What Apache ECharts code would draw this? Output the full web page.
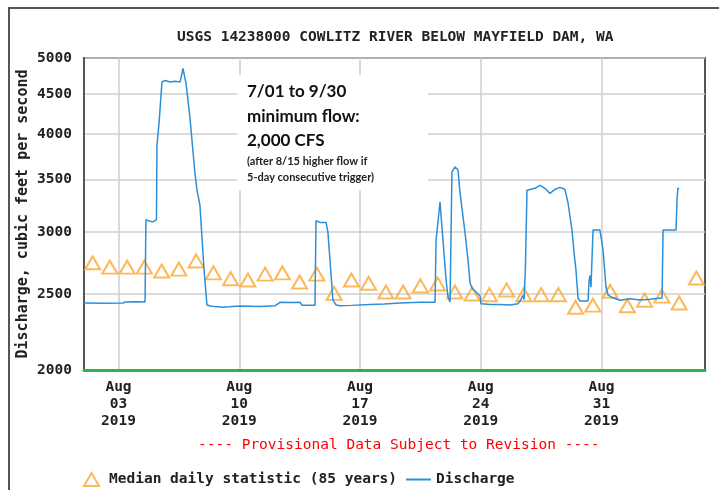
<!DOCTYPE html>
<html><head><meta charset="utf-8">
<script src="https://cdn.jsdelivr.net/npm/echarts@6/dist/echarts.min.js"></script>
<style>html,body{margin:0;padding:0;background:#fff}#c{width:719px;height:490px}</style>
</head><body><div id="c"></div>
<script>
// ---- data ----
const titleText = 'USGS 14238000 COWLITZ RIVER BELOW MAYFIELD DAM, WA';
const yTicks = [2000, 2500, 3000, 3500, 4000, 4500, 5000];
// x is days since Aug 01 2019 00:00
const xTickDays = [2, 9, 16, 23, 30];
const xTickLabels = ['Aug\n03\n2019', 'Aug\n10\n2019', 'Aug\n17\n2019', 'Aug\n24\n2019', 'Aug\n31\n2019'];
// median daily statistic, one per day Aug 01 .. Sep 05 (plotted at noon)
const medianDays = [0.5,1.5,2.5,3.5,4.5,5.5,6.5,7.5,8.5,9.5,10.5,11.5,12.5,13.5,14.5,15.5,16.5,17.5,
  18.5,19.5,20.5,21.5,22.5,23.5,24.5,25.5,26.5,27.5,28.5,29.5,30.5,31.5,32.5,33.5,34.5,35.5];
const medianCfs = [2740,2705,2705,2705,2675,2690,2755,2660,2615,2605,2650,2660,2590,2650,2505,2605,2580,2515,
  2515,2560,2575,2515,2500,2495,2530,2495,2495,2495,2405,2420,2520,2415,2455,2485,2435,2620];
// discharge (15-min record, read at breakpoints)
const dischargeDays = [0.00,1.20,2.26,2.38,3.00,3.54,3.59,3.83,4.00,4.20,4.23,4.35,4.46,4.52,4.70,4.99,5.28,5.57,5.68,5.74,5.86,5.91,
  6.14,6.43,6.55,6.72,6.96,7.13,7.40,7.59,8.00,8.46,9.00,9.62,10.20,11.07,11.36,12.00,12.52,12.64,13.39,13.45,13.68,14.03,14.14,14.43,14.61,
  14.84,15.50,16.58,17.40,18.32,19.48,20.35,20.41,20.64,20.75,20.99,21.10,21.22,21.28,21.33,21.51,21.68,21.80,22.09,22.26,22.38,22.49,
  22.78,22.96,23.01,23.60,24.12,24.70,25.16,25.33,25.45,25.51,25.59,25.68,26.14,26.43,26.72,27.01,27.30,27.59,27.88,28.06,28.29,28.41,
  28.52,28.64,28.75,29.22,29.28,29.33,29.39,29.51,29.91,30.09,30.26,30.38,30.61,31.07,31.65,32.23,32.81,33.51,33.57,34.32,34.38,34.43,34.49];
const dischargeCfs = [2435,2433,2435,2442,2444,2442,3110,3095,3090,3110,3870,4130,4150,4660,4680,4660,4670,4660,4670,4850,4700,4650,
  4200,3567,3393,3247,2683,2421,2412,2410,2404,2408,2414,2412,2410,2415,2440,2438,2440,2418,2418,3100,3085,3085,3000,2456,2421,
  2415,2418,2425,2428,2435,2440,2440,2930,3276,3044,2605,2478,2442,2442,3578,3631,3600,3364,2991,2763,2582,2545,
  2507,2486,2430,2425,2425,2420,2430,2460,2490,2460,2700,3390,3410,3440,3410,3360,3400,3420,3400,3266,3017,2820,
  2683,2471,2449,2449,2600,2640,2550,3017,3017,2845,2552,2493,2475,2455,2465,2456,2462,2471,3017,3017,3300,3413,3400];

const noteLines = ['7/01 to 9/30', 'minimum flow:', '2,000 CFS'];
const noteSmall = ['(after 8/15 higher flow if', '5-day consecutive trigger)'];

// ---- chart ----
const MONO = '"DejaVu Sans Mono", monospace';
const chart = echarts.init(document.getElementById('c'), null, {renderer: 'canvas'});
const dischargeData = dischargeDays.map((d, i) => [d, dischargeCfs[i]]);
const medianData = medianDays.map((d, i) => [d, medianCfs[i]]);

chart.setOption({
  backgroundColor: '#fff',
  animation: false,
  title: [
    {text: titleText, left: 172, top: 25, textStyle: {fontFamily: MONO, fontSize: 14.5, fontWeight: 'bold', color: '#222'}},
    {text: '---- Provisional Data Subject to Revision ----', left: 193, top: 433,
     textStyle: {fontFamily: MONO, fontSize: 14.5, fontWeight: 'normal', color: '#ff0000'}}
  ],
  legend: [
    {data: ['Median daily statistic (85 years)'], left: 78, top: 467, itemWidth: 15, itemHeight: 13, itemGap: 0,
     textStyle: {fontFamily: MONO, fontSize: 14.5, fontWeight: 'bold', color: '#222', padding: [0, 0, 0, 5]}},
    {data: [{name: 'Discharge', icon: 'rect'}], left: 401, top: 467, itemWidth: 25, itemHeight: 2,
     textStyle: {fontFamily: MONO, fontSize: 14.5, fontWeight: 'bold', color: '#222'}}
  ],
  grid: {left: 84, right: 14, top: 58, bottom: 120, show: true, borderColor: '#555', borderWidth: 2, backgroundColor: '#fff'},
  xAxis: {
    type: 'value', min: 0, max: 36,
    axisLine: {show: true, onZero: false, lineStyle: {color: '#2fb34a', width: 3}},
    axisTick: {show: false, customValues: xTickDays},
    splitLine: {show: true, lineStyle: {color: '#cfcfcf', width: 1.5}},
    axisLabel: {customValues: xTickDays, margin: 9, lineHeight: 17, fontFamily: MONO, fontSize: 14.5, fontWeight: 'bold', color: '#222',
      formatter: v => xTickLabels[xTickDays.indexOf(Math.round(v))] || ''}
  },
  yAxis: {
    type: 'log', logBase: 10, min: 2000, max: 5000,
    name: 'Discharge, cubic feet per second', nameLocation: 'middle', nameGap: 53, nameRotate: 90, nameMoveOverlap: false,
    nameTextStyle: {fontFamily: MONO, fontSize: 15, fontWeight: 'bold', color: '#222'},
    axisLine: {show: true, lineStyle: {color: '#555', width: 2}},
    axisTick: {show: false, customValues: yTicks},
    splitLine: {show: true, lineStyle: {color: '#cfcfcf', width: 1.5}},
    axisLabel: {customValues: yTicks, margin: 12, fontFamily: MONO, fontSize: 14.5, fontWeight: 'bold', color: '#222',
      formatter: v => String(Math.round(v))}
  },
  graphic: [
    {type: 'rect', z: -10, silent: true, shape: {x: 9, y: 8, width: 900, height: 700}, style: {fill: 'none', stroke: '#555', lineWidth: 2}},
    {type: 'rect', z: 1, silent: true, shape: {x: 237, y: 75, width: 191, height: 115}, style: {fill: '#fff'}},
    {type: 'text', z: 2, left: 247, top: 83, style: {text: noteLines[0], font: 'bold 17px Lato, sans-serif', fill: '#111'}},
    {type: 'text', z: 2, left: 247, top: 108, style: {text: noteLines[1], font: 'bold 17px Lato, sans-serif', fill: '#111'}},
    {type: 'text', z: 2, left: 247, top: 132, style: {text: noteLines[2], font: 'bold 17px Lato, sans-serif', fill: '#111'}},
    {type: 'text', z: 2, left: 247, top: 156, style: {text: noteSmall[0], font: 'bold 11px Lato, sans-serif', fill: '#222'}},
    {type: 'text', z: 2, left: 247, top: 172, style: {text: noteSmall[1], font: 'bold 11px Lato, sans-serif', fill: '#222'}}
  ],
  series: [
    {name: 'Median daily statistic (85 years)', type: 'scatter', data: medianData, symbol: 'triangle', symbolSize: [15, 13], z: 3,
     itemStyle: {color: 'rgba(255,255,255,0)', borderColor: '#fba630', borderWidth: 2}},
    {name: 'Discharge', type: 'line', data: dischargeData, symbol: 'none', showSymbol: false, z: 4,
     lineStyle: {color: '#2b8fd9', width: 1.5}, itemStyle: {color: '#2b8fd9'}}
  ]
});
</script></body></html>
